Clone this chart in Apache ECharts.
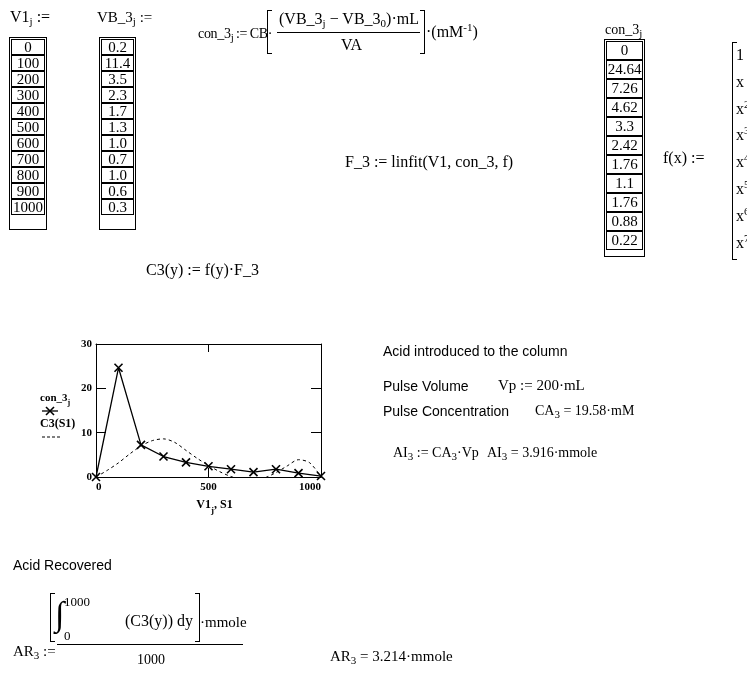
<!DOCTYPE html>
<html><head><meta charset="utf-8">
<script src="https://cdn.jsdelivr.net/npm/echarts@6/dist/echarts.min.js"></script>
<style>
body{margin:0;width:747px;height:673px;overflow:hidden;background:#fff;position:relative;font-family:'Liberation Serif','Times New Roman',serif;color:#000;}
#chart{position:absolute;left:0;top:0;width:747px;height:673px;z-index:0;}
.t{position:absolute;white-space:nowrap;font-size:16px;line-height:18px;z-index:1;}
.s{font-family:'Liberation Sans',Arial,sans-serif;font-size:14px;}
sub{font-size:11px;vertical-align:-3px;line-height:0}
sup{font-size:11px;vertical-align:6px;line-height:0}
.tbl{position:absolute;border:1px solid #000;padding:1px;z-index:1;}
.tbl div{border:1px solid #000;text-align:center;font-size:15px;box-sizing:border-box;}
.lb{position:absolute;border:1.3px solid #000;border-right:none;width:4px;z-index:1;}
.rb{position:absolute;border:1.3px solid #000;border-left:none;width:4px;z-index:1;}
.hl{position:absolute;border-top:1px solid #000;height:0;z-index:1;}
</style></head><body>
<div id="chart"></div>

<div class="t" style="left:10px;top:8px">V1<sub>j</sub> :=</div>
<div class="t" style="left:97px;top:8px;font-size:15px">VB_3<sub>j</sub> :=</div>
<div id="tV1" class="tbl" style="left:9px;top:37px;width:34px;height:189px"></div>
<div id="tVB" class="tbl" style="left:99px;top:37px;width:33px;height:189px"></div>

<div class="t" style="left:198px;top:25px;font-size:14px;letter-spacing:-0.3px">con_3<sub>j</sub>&thinsp;:=&thinsp;CB·</div>
<div class="lb" style="left:267px;top:10px;height:42px"></div>
<div class="t" style="left:279px;top:10px">(VB_3<sub>j</sub> − VB_3<sub>0</sub>)·mL</div>
<div class="hl" style="left:277px;top:32px;width:143px"></div>
<div class="t" style="left:341px;top:36px">VA</div>
<div class="rb" style="left:420px;top:10px;height:42px"></div>
<div class="t" style="left:426px;top:23px">·(mM<sup>-1</sup>)</div>

<div class="t" style="left:345px;top:153px">F_3 := linfit(V1, con_3, f)</div>

<div class="t" style="left:605px;top:21px;font-size:14px">con_3<sub>j</sub></div>
<div id="tC" class="tbl" style="left:604px;top:39px;width:37px;height:214px"></div>

<div class="t" style="left:663px;top:149px">f(x) :=</div>
<div class="lb" style="left:732px;top:42px;height:216px"></div>
<div id="fvec"></div>

<div class="t" style="left:146px;top:261px">C3(y) := f(y)·F_3</div>

<div class="t s" style="left:383px;top:342px">Acid introduced to the column</div>
<div class="t s" style="left:383px;top:377px">Pulse Volume</div>
<div class="t" style="left:498px;top:376px;font-size:15px">Vp := 200·mL</div>
<div class="t s" style="left:383px;top:402px">Pulse Concentration</div>
<div class="t" style="left:535px;top:402px;font-size:14px">CA<sub>3</sub> = 19.58·mM</div>
<div class="t" style="left:393px;top:444px;font-size:14px">AI<sub>3</sub> := CA<sub>3</sub>·Vp</div>
<div class="t" style="left:487px;top:444px;font-size:14px">AI<sub>3</sub> = 3.916·mmole</div>

<div class="t s" style="left:13px;top:556px">Acid Recovered</div>
<div class="t" style="left:13px;top:642px;font-size:15px">AR<sub>3</sub> :=</div>
<div class="lb" style="left:50px;top:593px;height:47px"></div>
<div class="t" style="left:55px;top:592px;font-size:34px;line-height:44px">∫</div>
<div class="t" style="left:64px;top:593px;font-size:13px">1000</div>
<div class="t" style="left:64px;top:627px;font-size:13px">0</div>
<div class="t" style="left:125px;top:612px">(C3(y)) dy</div>
<div class="rb" style="left:195px;top:593px;height:47px"></div>
<div class="t" style="left:200px;top:613px;font-size:15px">·mmole</div>
<div class="hl" style="left:57px;top:644px;width:186px"></div>
<div class="t" style="left:137px;top:651px;font-size:14px">1000</div>
<div class="t" style="left:330px;top:647px;font-size:15px">AR<sub>3</sub> = 3.214·mmole</div>

<script>
// ---- data ----
const V1 = [0, 100, 200, 300, 400, 500, 600, 700, 800, 900, 1000];
const VB_3 = [0.2, 11.4, 3.5, 2.3, 1.7, 1.3, 1.0, 0.7, 1.0, 0.6, 0.3];
const con_3 = [0, 24.64, 7.26, 4.62, 3.3, 2.42, 1.76, 1.1, 1.76, 0.88, 0.22];
// fitted curve C3(S1)
const S1 = [0, 50, 100, 150, 200, 250, 300, 350, 400, 450, 500, 550, 600, 650, 700, 750, 800, 850, 900, 950, 1000];
const C3_S1 = [0, 1.5, 3.2, 5.2, 7.0, 8.2, 8.6, 7.8, 6.0, 4.2, 2.6, 1.2, 0.1, -0.6, -0.8, -0.2, 1.0, 2.5, 3.9, 3.2, 0];
const fTerms = ['1', 'x', 'x<sup>2</sup>', 'x<sup>3</sup>', 'x<sup>4</sup>', 'x<sup>5</sup>', 'x<sup>6</sup>', 'x<sup>7</sup>'];
const yTicks = [0, 10, 20, 30];
const xTicks = [0, 500, 1000];

// ---- tables ----
function fillTable(id, vals, fmt, h) {
  const el = document.getElementById(id);
  vals.forEach(v => {
    const d = document.createElement('div');
    d.style.height = h + 'px';
    d.style.lineHeight = (h - 2) + 'px';
    d.textContent = fmt(v);
    el.appendChild(d);
  });
}
fillTable('tV1', V1, v => String(v), 16);
fillTable('tVB', VB_3, v => v.toFixed(1), 16);
fillTable('tC', con_3, v => String(v), 19);
const fv = document.getElementById('fvec');
fTerms.forEach((t, i) => {
  const d = document.createElement('div');
  d.className = 't';
  d.style.left = '736px';
  d.style.top = (46 + i * 26.8) + 'px';
  d.innerHTML = t;
  fv.appendChild(d);
});

// ---- chart ----
const serif = "'Liberation Serif','Times New Roman',serif";
const chart = echarts.init(document.getElementById('chart'));
const axLine = {show: true, onZero: false, lineStyle: {color: '#000', width: 1}};
const lbl = {fontFamily: serif, fontWeight: 'bold', fontSize: 11, color: '#000', formatter: v => String(v)};
chart.setOption({
  animation: false,
  grid: {left: 96, top: 344, width: 225, height: 133},
  xAxis: [
    {type: 'value', min: xTicks[0], max: xTicks[xTicks.length - 1], interval: 500, position: 'bottom',
     axisLine: axLine, axisTick: {inside: true, length: 9, lineStyle: {color: '#000'}}, splitLine: {show: false},
     axisLabel: Object.assign({margin: 5, alignMinLabel: 'left', alignMaxLabel: 'right'}, lbl),
     name: '{a|V1}{s|j}{a|, S1}', nameLocation: 'middle', nameGap: 22,
     nameTextStyle: {padding: [0, 0, 0, 12], rich: {a: {fontFamily: serif, fontWeight: 'bold', fontSize: 12, lineHeight: 16, verticalAlign: 'top'},
                            s: {fontFamily: serif, fontWeight: 'bold', fontSize: 9, lineHeight: 16, verticalAlign: 'bottom'}}}},
    {type: 'value', min: 0, max: 1000, interval: 500, position: 'top',
     axisLine: axLine, axisTick: {inside: true, length: 8, lineStyle: {color: '#000'}}, splitLine: {show: false}, axisLabel: {show: false}}
  ],
  yAxis: [
    {type: 'value', min: yTicks[0], max: yTicks[yTicks.length - 1], interval: 10, position: 'left',
     axisLine: axLine, axisTick: {inside: true, length: 10, lineStyle: {color: '#000'}}, splitLine: {show: false},
     axisLabel: Object.assign({margin: 4}, lbl)},
    {type: 'value', min: 0, max: 30, interval: 10, position: 'right',
     axisLine: axLine, axisTick: {inside: true, length: 10, lineStyle: {color: '#000'}}, splitLine: {show: false}, axisLabel: {show: false}}
  ],
  series: [
    {type: 'line', name: 'C3(S1)', data: S1.map((x, i) => [x, C3_S1[i]]), smooth: 0.3, symbol: 'none', clip: true,
     lineStyle: {color: '#000', width: 1, type: [3, 3]}},
    {type: 'line', name: 'con_3', data: V1.map((x, i) => [x, con_3[i]]), symbol: 'path://M0,0L10,10M10,0L0,10', symbolSize: 8,
     itemStyle: {color: '#000', borderColor: '#000', borderWidth: 1.6}, lineStyle: {color: '#000', width: 1.3}, clip: false}
  ],
  graphic: [
    {type: 'text', left: 40, top: 393, style: {text: '{a|con_3}{s|j}', rich: {
      a: {fontFamily: serif, fontWeight: 'bold', fontSize: 11, lineHeight: 14, verticalAlign: 'top', fill: '#000'},
      s: {fontFamily: serif, fontWeight: 'bold', fontSize: 8, lineHeight: 14, verticalAlign: 'bottom', fill: '#000'}}}},
    {type: 'line', shape: {x1: 42, y1: 411, x2: 58, y2: 411}, style: {stroke: '#000', lineWidth: 1.3}},
    {type: 'line', shape: {x1: 46, y1: 407, x2: 54, y2: 415}, style: {stroke: '#000', lineWidth: 1.6}},
    {type: 'line', shape: {x1: 54, y1: 407, x2: 46, y2: 415}, style: {stroke: '#000', lineWidth: 1.6}},
    {type: 'text', left: 40, top: 418, style: {text: 'C3(S1)', font: 'bold 12px ' + serif, fill: '#000'}},
    {type: 'line', shape: {x1: 42, y1: 437, x2: 60, y2: 437}, style: {stroke: '#000', lineWidth: 1, lineDash: [3, 2]}}
  ]
});
</script>
</body></html>
